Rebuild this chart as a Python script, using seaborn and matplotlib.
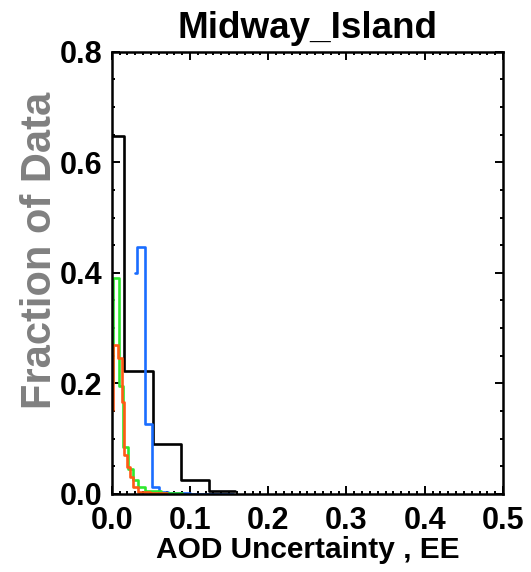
import matplotlib
matplotlib.use("Agg")
import matplotlib.pyplot as plt
from matplotlib.ticker import MultipleLocator, FormatStrFormatter
import seaborn as sns
import pandas as pd

# ---- data (bin edges and fraction values) ----
black_edges = [0.0, 0.0157, 0.0524, 0.0882, 0.1240, 0.1576]
black_vals = [0.647, 0.222, 0.091, 0.026, 0.005]

blue_edges = [0.0298, 0.0325, 0.0425, 0.0515, 0.0600, 0.0715, 0.1000, 0.1555]
blue_vals = [0.400, 0.446, 0.126, 0.013, 0.004, 0.0018, 0.0008]

green_edges = [0.0005, 0.0013, 0.0087, 0.0149, 0.0213, 0.0268, 0.0330, 0.0420, 0.0630, 0.0894]
green_vals = [0.20, 0.390, 0.196, 0.0855, 0.046, 0.025, 0.013, 0.005, 0.002]

orange_edges = [0.0005, 0.0013, 0.0077, 0.0128, 0.0157, 0.0190, 0.0234, 0.0276, 0.0340, 0.0490, 0.0700]
orange_vals = [0.152, 0.270, 0.246, 0.167, 0.0705, 0.049, 0.031, 0.013, 0.004, 0.001]

title_text = "Midway_Island"
xlabel_text = "AOD Uncertainty , EE"
ylabel_text = "Fraction of Data"

series = [
    ("black", black_edges, black_vals, "#000000"),
    ("blue", blue_edges, blue_vals, "#1a6dff"),
    ("green", green_edges, green_vals, "#2ee82e"),
    ("orange", orange_edges, orange_vals, "#ff5a14"),
]

sns.set_style("ticks")
plt.rcParams["font.family"] = ["Liberation Sans", "DejaVu Sans"]
plt.rcParams["font.weight"] = "bold"
plt.rcParams["text.color"] = "black"
plt.rcParams["axes.labelcolor"] = "black"
plt.rcParams["xtick.color"] = "black"
plt.rcParams["ytick.color"] = "black"
plt.rcParams["xtick.labelcolor"] = "black"
plt.rcParams["ytick.labelcolor"] = "black"

fig = plt.figure(figsize=(5.31, 5.72), dpi=100)
ax = fig.add_axes([0.2104, 0.1364, 0.7369, 0.7732])

for name, edges, vals, col in series:
    df = pd.DataFrame({"x": edges, "y": list(vals) + [vals[-1]]})
    sns.lineplot(data=df, x="x", y="y", ax=ax, color=col, linewidth=1.9,
                 drawstyle="steps-post", estimator=None, sort=False)

ax.set_xlim(0, 0.5)
ax.set_ylim(0, 0.8)
ax.xaxis.set_major_locator(MultipleLocator(0.1))
ax.xaxis.set_minor_locator(MultipleLocator(0.01))
ax.yaxis.set_major_locator(MultipleLocator(0.2))
ax.yaxis.set_minor_locator(MultipleLocator(0.05))
ax.xaxis.set_major_formatter(FormatStrFormatter("%.1f"))
ax.yaxis.set_major_formatter(FormatStrFormatter("%.1f"))

ax.tick_params(which="both", direction="in", top=True, right=True, width=1.4,
               color="black", labelcolor="black")
ax.tick_params(which="major", length=5.5)
ax.tick_params(which="minor", length=2.5)
ax.tick_params(axis="x", which="major", pad=8.5, labelsize=22)
ax.tick_params(axis="y", which="major", pad=7, labelsize=22)
for lab in ax.get_xticklabels() + ax.get_yticklabels():
    lab.set_fontweight("bold")
    lab.set_color("black")

for sp in ax.spines.values():
    sp.set_linewidth(1.8)
    sp.set_color("black")

ax.set_title(title_text, fontsize=26.5, fontweight="bold", pad=10, color="black")
ax.set_xlabel(xlabel_text, fontsize=21.5, fontweight="bold", labelpad=0, color="black")
ax.set_ylabel("")
fig.text(40 / 531, 1 - 250 / 572, ylabel_text, rotation=90, ha="center", va="center",
         fontsize=30, fontweight="bold", color="#808080")

fig.savefig("out.png", dpi=100)
